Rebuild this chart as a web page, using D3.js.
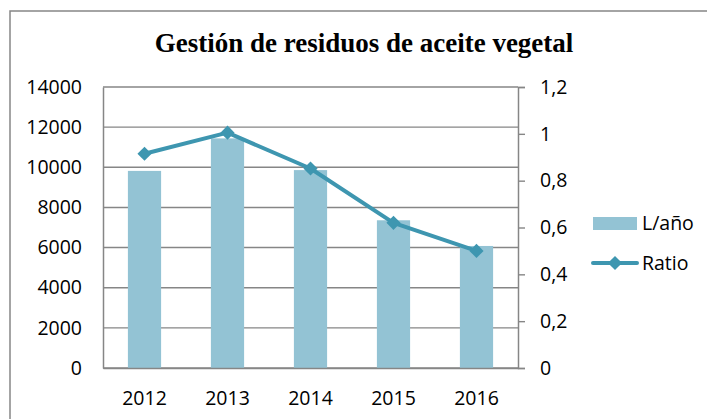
<!DOCTYPE html>
<html>
<head>
<meta charset="utf-8">
<script src="https://cdn.jsdelivr.net/npm/d3@7"></script>
<style>
  body { margin: 0; background: #fff; }
  svg { display: block; }
  .tick text { font-family: "Open Sans", sans-serif; font-size: 19.5px; fill: #000; }
</style>
</head>
<body>
<script>
// data
const years = ["2012", "2013", "2014", "2015", "2016"];
const litres = [9820, 11440, 9860, 7360, 6080];
const ratio = [0.915, 1.005, 0.852, 0.62, 0.5];
const leftTicks = [0, 2000, 4000, 6000, 8000, 10000, 12000, 14000];
const rightTicks = [0, 0.2, 0.4, 0.6, 0.8, 1, 1.2];
const seriesNames = ["L/año", "Ratio"];
const title = "Gestión de residuos de aceite vegetal";

const width = 707, height = 419;
const barColor = "#93c3d4";
const lineColor = "#3e96b0";
const gridColor = "#868686";

const plot = { left: 103, right: 518, top: 87, bottom: 368 };

const svg = d3.select("body").append("svg")
    .attr("width", width)
    .attr("height", height);

// outer frame (runs off the right and bottom of the picture)
svg.append("rect")
    .attr("x", 10).attr("y", 11)
    .attr("width", 730).attr("height", 440)
    .attr("fill", "#fff")
    .attr("stroke", gridColor)
    .attr("stroke-width", 1.5);

svg.append("text")
    .attr("x", 364).attr("y", 52)
    .attr("text-anchor", "middle")
    .style("font-family", "'Liberation Serif', 'Times New Roman', serif")
    .style("font-weight", "bold")
    .style("font-size", "27px")
    .text(title);

const x = d3.scaleBand()
    .domain(years)
    .range([plot.left, plot.right])
    .paddingInner(0.6)
    .paddingOuter(0.3);

const yLeft = d3.scaleLinear().domain([0, 14000]).range([plot.bottom, plot.top]);
const yRight = d3.scaleLinear().domain([0, 1.2]).range([plot.bottom, plot.top]);

const esLocale = d3.formatLocale({ decimal: ",", thousands: ".", grouping: [3], currency: ["", "€"] });

// gridlines
svg.append("g")
    .selectAll("line")
    .data(leftTicks)
    .join("line")
    .attr("x1", plot.left).attr("x2", plot.right)
    .attr("y1", d => yLeft(d)).attr("y2", d => yLeft(d))
    .attr("stroke", gridColor)
    .attr("stroke-width", 1.4);

// left axis
const leftAxis = svg.append("g")
    .attr("transform", `translate(${plot.left},0)`)
    .call(d3.axisLeft(yLeft).tickValues(leftTicks).tickFormat(d3.format("d")).tickSize(0).tickPadding(21));
leftAxis.select(".domain").attr("stroke", gridColor).attr("stroke-width", 1.5);

// right axis
const rightAxis = svg.append("g")
    .attr("transform", `translate(${plot.right},0)`)
    .call(d3.axisRight(yRight).tickValues(rightTicks).tickFormat(esLocale.format("~g")).tickSize(7).tickPadding(15));
rightAxis.select(".domain").attr("stroke", gridColor).attr("stroke-width", 1.5);
rightAxis.selectAll(".tick line").attr("stroke", gridColor).attr("stroke-width", 1.4);

// bars
svg.append("g")
    .selectAll("rect")
    .data(years)
    .join("rect")
    .attr("x", d => x(d))
    .attr("width", x.bandwidth())
    .attr("y", (d, i) => yLeft(litres[i]))
    .attr("height", (d, i) => yLeft(0) - yLeft(litres[i]))
    .attr("fill", barColor);

// bottom axis
const bottomAxis = svg.append("g")
    .attr("transform", `translate(0,${plot.bottom})`)
    .call(d3.axisBottom(x).tickSize(0).tickPadding(23));
bottomAxis.select(".domain").attr("stroke", gridColor).attr("stroke-width", 1.5);

// ratio line
const cx = d => x(d) + x.bandwidth() / 2;
const line = d3.line()
    .x(d => cx(d))
    .y((d, i) => yRight(ratio[i]));

svg.append("path")
    .datum(years)
    .attr("d", line)
    .attr("fill", "none")
    .attr("stroke", lineColor)
    .attr("stroke-width", 4)
    .attr("stroke-linejoin", "round");

const diamond = d3.symbol().type(d3.symbolSquare).size(100);
svg.append("g")
    .selectAll("path")
    .data(years)
    .join("path")
    .attr("d", diamond)
    .attr("transform", (d, i) => `translate(${cx(d)},${yRight(ratio[i])}) rotate(45)`)
    .attr("fill", lineColor);

// legend
const legend = svg.append("g")
    .style("font-family", "'Open Sans', sans-serif")
    .style("font-size", "19.5px");

legend.append("rect")
    .attr("x", 593).attr("y", 217)
    .attr("width", 44).attr("height", 13)
    .attr("fill", barColor);
legend.append("text")
    .attr("x", 642).attr("y", 223)
    .attr("dy", "0.35em")
    .text(seriesNames[0]);

legend.append("line")
    .attr("x1", 593).attr("x2", 637)
    .attr("y1", 263).attr("y2", 263)
    .attr("stroke", lineColor)
    .attr("stroke-width", 4)
    .attr("stroke-linecap", "round");
legend.append("path")
    .attr("d", diamond)
    .attr("transform", "translate(615,263) rotate(45)")
    .attr("fill", lineColor);
legend.append("text")
    .attr("x", 642).attr("y", 263)
    .attr("dy", "0.35em")
    .text(seriesNames[1]);
</script>
</body>
</html>
